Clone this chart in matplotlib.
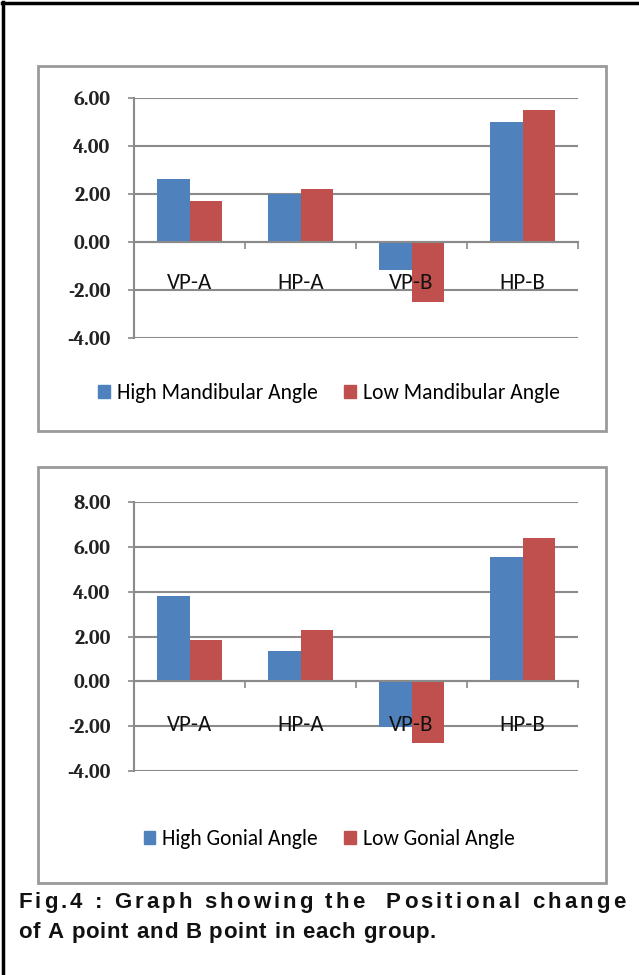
import matplotlib
matplotlib.use("Agg")
import matplotlib.pyplot as plt
from matplotlib.patches import Rectangle
from matplotlib.lines import Line2D
from matplotlib.font_manager import FontProperties
from matplotlib.textpath import TextToPath
from matplotlib.transforms import offset_copy

categories = ["VP-A", "HP-A", "VP-B", "HP-B"]

mand_high = [2.62, 2.00, -1.18, 5.02]
mand_low = [1.70, 2.20, -2.52, 5.48]
mand_labels = ["High Mandibular Angle", "Low Mandibular Angle"]
mand_ticks = [-4, -2, 0, 2, 4, 6]

gon_high = [3.80, 1.35, -2.05, 5.56]
gon_low = [1.84, 2.31, -2.74, 6.38]
gon_labels = ["High Gonial Angle", "Low Gonial Angle"]
gon_ticks = [-4, -2, 0, 2, 4, 6, 8]

caption1 = "Fig.4 : Graph showing the  Positional change"
caption2 = "of A point and B point in each group."

W, H = 639, 975
BLUE = "#4F81BD"
RED = "#C0504D"
GRID = "#8A8A8A"
SANS = ["Carlito", "Lato", "DejaVu Sans"]
SERIF = ["Caladea", "Liberation Serif", "DejaVu Serif"]

fig = plt.figure(figsize=(W / 100, H / 100), dpi=100)


def fx(px):
    return px / W


def fy(py):
    return 1 - py / H


def chart(box, plot, high, low, labels, ticks, lab_off, leg_y):
    # gray frame of the embedded chart
    l, t, r, b = box
    fig.add_artist(Rectangle((fx(l), fy(b)), fx(r - l), (b - t) / H,
                             fill=False, ec="#9A9A9A", lw=2.0,
                             transform=fig.transFigure))
    pl, pt, pr, pb = plot
    ax = fig.add_axes([fx(pl), fy(pb), fx(pr - pl), (pb - pt) / H])
    x = list(range(len(categories)))
    w = 0.29
    ax.bar([i - w / 2 for i in x], high, w, color=BLUE, label=labels[0], zorder=2)
    ax.bar([i + w / 2 for i in x], low, w, color=RED, label=labels[1], zorder=2)
    ax.set_xlim(-0.5, len(categories) - 0.5)
    ax.set_ylim(ticks[0], ticks[-1])
    ax.set_yticks(ticks)
    ax.set_yticklabels([f"{v:.2f}" for v in ticks], fontsize=14.5,
                       family=SERIF, fontweight="bold", color="#222222")
    ax.yaxis.grid(True, color=GRID, lw=1.5, zorder=0)
    ax.tick_params(axis="y", length=4, width=1.2, color=GRID, pad=13)
    for s in ["top", "right"]:
        ax.spines[s].set_visible(False)
    ax.spines["left"].set_color(GRID)
    ax.spines["left"].set_linewidth(1.5)
    ax.spines["bottom"].set_position(("data", 0))
    ax.spines["bottom"].set_color(GRID)
    ax.spines["bottom"].set_linewidth(1.5)
    ax.spines["bottom"].set_zorder(3)
    ax.set_xticks([i - 0.5 for i in range(len(categories) + 1)])
    ax.set_xticklabels([])
    ax.tick_params(axis="x", length=5, width=1.2, color=GRID, direction="out")
    ax.set_axisbelow(True)
    # category names sit well below the zero line and over the bars
    trans = offset_copy(ax.transData, fig=fig, y=-lab_off, units="points")
    for i, c in enumerate(categories):
        ax.text(i, 0, c, transform=trans, ha="center", va="center",
                fontsize=16.5, family=SANS, color="#111111", zorder=5)
    handles = [Rectangle((0, 0), 1, 1, color=BLUE), Rectangle((0, 0), 1, 1, color=RED)]
    fig.legend(handles, labels, loc="center", bbox_to_anchor=(fx(329), fy(leg_y)),
               ncol=2, frameon=False, prop=FontProperties(family=SANS, size=15.5),
               handlelength=0.55, handleheight=0.55, handletextpad=0.3,
               columnspacing=1.25)
    return ax


chart((38, 66, 606, 431), (134, 98, 578, 338), mand_high, mand_low,
      mand_labels, mand_ticks, 29.5, 393)
chart((38, 467, 606, 883), (134, 502, 578, 771), gon_high, gon_low,
      gon_labels, gon_ticks, 31.5, 839)

# outer black page border (top and left)
fig.add_artist(Line2D([fx(3), fx(3)], [fy(2), fy(H)], color="black", lw=2.5,
                      transform=fig.transFigure))
fig.add_artist(Line2D([fx(2), fx(W)], [fy(3), fy(3)], color="black", lw=2.5,
                      transform=fig.transFigure))

# caption: letter-spaced lines, the first one justified to the full width
cap_prop = FontProperties(family=["Liberation Sans", "DejaVu Sans"], weight="bold", size=16)
ttp = TextToPath()


def spaced(text, x0, x1, base):
    widths = [ttp.get_text_width_height_descent(c, cap_prop, ismath=False)[0] * 100 / 72
              for c in text]
    extra = (x1 - x0 - sum(widths)) / (len(text) - 1)
    xp = x0
    for c, cw in zip(text, widths):
        fig.text(fx(xp), fy(base), c, fontproperties=cap_prop, ha="left",
                 va="baseline", color="#111111")
        xp += cw + extra


spaced(caption1, 18, 625, 908)
spaced(caption2, 18, 436, 938)

fig.savefig("out.png", dpi=100, facecolor="white")
